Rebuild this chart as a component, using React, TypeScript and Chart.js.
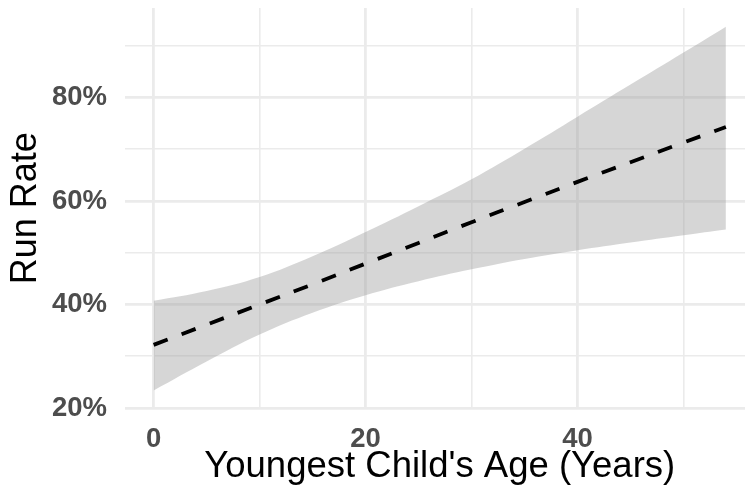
import React, { useEffect, useRef } from "react";
import { Chart, registerables } from "chart.js";

Chart.register(...registerables);

// Data
const ages = [0, 5, 10, 15, 20, 25, 30, 35, 40, 45, 50, 54];
const fitRate = [32.2, 36.1, 40.0, 43.9, 47.9, 51.9, 55.9, 59.8, 63.7, 67.5, 71.3, 74.3];
const upperCI = [40.7, 42.6, 45.3, 49.3, 54.0, 59.0, 64.2, 70.1, 76.3, 82.5, 88.7, 93.7];
const lowerCI = [23.4, 29.0, 34.2, 38.4, 41.8, 44.5, 46.8, 48.8, 50.5, 52.0, 53.4, 54.5];

const xGridValues = [0, 10, 20, 30, 40, 50];
const xLabelValues = [0, 20, 40];
const yGridValues = [20, 30, 40, 50, 60, 70, 80, 90];
const yLabelValues = [20, 40, 60, 80];

const xTitle = "Youngest Child's Age (Years)";
const yTitle = "Run Rate";

const FONT = "'Liberation Sans', Arial, Helvetica, sans-serif";

export default function App() {
  const ref = useRef<HTMLCanvasElement | null>(null);

  useEffect(() => {
    if (!ref.current) return;
    const toPts = (ys: number[]) => ages.map((x, i) => ({ x, y: ys[i] }));
    const gridWidth = (isMajor: boolean) => (isMajor ? 2.8 : 1.6);

    const chart = new Chart(ref.current, {
      type: "line",
      data: {
        datasets: [
          {
            label: "fit",
            data: toPts(fitRate),
            borderColor: "#000000",
            borderWidth: 3.8,
            borderDash: [15, 15],
            borderCapStyle: "butt",
            pointRadius: 0,
            fill: false,
            tension: 0.4,
            order: 0,
          },
          {
            label: "lower",
            data: toPts(lowerCI),
            borderWidth: 0,
            borderColor: "rgba(0,0,0,0)",
            pointRadius: 0,
            fill: false,
            tension: 0.4,
            order: 1,
          },
          {
            label: "upper",
            data: toPts(upperCI),
            borderWidth: 0,
            borderColor: "rgba(0,0,0,0)",
            backgroundColor: "rgba(153,153,153,0.4)",
            pointRadius: 0,
            fill: "-1",
            tension: 0.4,
            order: 2,
          },
        ],
      },
      options: {
        animation: false,
        responsive: false,
        maintainAspectRatio: false,
        layout: { padding: { top: 7.9, right: 0.5, bottom: 0, left: 0 } },
        plugins: {
          legend: { display: false },
          tooltip: { enabled: false },
        },
        scales: {
          x: {
            type: "linear",
            min: -2.7,
            max: 56.7,
            afterBuildTicks: (s: any) => {
              s.ticks = xGridValues.map((v) => ({ value: v }));
            },
            afterFit: (s: any) => {
              s.height = 85.4;
              s.paddingLeft = 0;
              s.paddingRight = 0;
            },
            border: { display: false },
            grid: {
              drawTicks: false,
              color: "#EBEBEB",
              lineWidth: (c: any) => gridWidth(xLabelValues.includes(c.tick?.value)),
            },
            ticks: {
              padding: 14,
              maxRotation: 0,
              autoSkip: false,
              color: "#4D4D4D",
              font: { family: FONT, size: 27.5, weight: "bold" },
              callback: (v: any) => (xLabelValues.includes(Number(v)) ? String(v) : ""),
            },
            title: {
              display: true,
              text: xTitle,
              color: "#000000",
              font: { family: FONT, size: 36.5 },
              padding: { top: 0, bottom: 5 },
            },
          },
          y: {
            type: "linear",
            min: 19.88,
            max: 97.32,
            afterBuildTicks: (s: any) => {
              s.ticks = yGridValues.map((v) => ({ value: v }));
            },
            afterFit: (s: any) => {
              s.width = 125;
              s.paddingTop = 0;
              s.paddingBottom = 0;
            },
            border: { display: false },
            grid: {
              drawTicks: false,
              color: "#EBEBEB",
              lineWidth: (c: any) => gridWidth(yLabelValues.includes(c.tick?.value)),
            },
            ticks: {
              padding: 18,
              autoSkip: false,
              color: "#4D4D4D",
              font: { family: FONT, size: 27.5, weight: "bold" },
              callback: (v: any) => (yLabelValues.includes(Number(v)) ? v + "%" : ""),
            },
            title: {
              display: true,
              text: yTitle,
              color: "#000000",
              font: { family: FONT, size: 36 },
              padding: { top: 4, bottom: 0 },
            },
          },
        },
      },
    });
    return () => chart.destroy();
  }, []);

  return (
    <div
      style={{
        position: "absolute",
        left: 0,
        top: 0,
        width: 745,
        height: 494,
        overflow: "hidden",
        background: "#ffffff",
      }}
    >
      <canvas ref={ref} width={755} height={494} style={{ width: 755, height: 494, display: "block" }} />
    </div>
  );
}
